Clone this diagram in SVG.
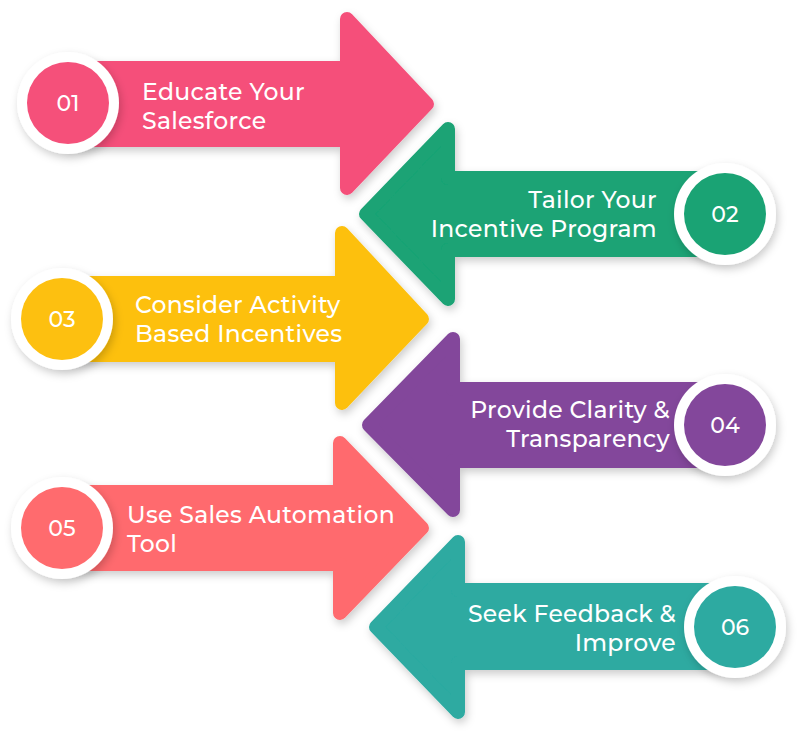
<svg xmlns="http://www.w3.org/2000/svg" width="800" height="734" viewBox="0 0 800 734">
<defs>
<filter id="sh" x="-20%" y="-20%" width="140%" height="140%"><feDropShadow dx="2" dy="4" stdDeviation="4" flood-color="#000" flood-opacity="0.2"/></filter>
</defs>
<style>
.a{stroke-width:14;stroke-linejoin:round;filter:url(#sh)}
.t{font-family:"Montserrat","Open Sans","Liberation Sans",sans-serif;font-size:23.5px;font-weight:500;fill:#fff;letter-spacing:0.3px}
.n{font-family:"Montserrat","Open Sans","Liberation Sans",sans-serif;font-size:22px;font-weight:500;fill:#fff;text-anchor:middle}
.r{fill:#fff;filter:url(#sh)}
</style>
<rect width="800" height="734" fill="#fff"/>
<g id="n1">
<path class="a" fill="#F5507A" stroke="#F5507A" d="M68,68 H347 V19 L427,104 L347,188 V140 H68 Z"/>
<circle class="r" cx="68" cy="103" r="51"/><circle cx="68" cy="103" r="41" fill="#F5507A"/>
<text class="n" x="68" y="111">01</text>
<text class="t" x="142" y="100">Educate Your</text><text class="t" x="142" y="129">Salesforce</text>
</g>
<g id="n2">
<path class="a" fill="#1AA374" stroke="#1AA374" d="M725,178 H448 V129 L366,214 L448,299 V250 H725 Z"/>
<circle class="r" cx="725" cy="214" r="51"/><circle cx="725" cy="214" r="41" fill="#1AA374"/>
<text class="n" x="725" y="222">02</text>
<text class="t" x="657" y="208" text-anchor="end">Tailor Your</text><text class="t" x="657" y="237" text-anchor="end">Incentive Program</text>
</g>
<g id="n3">
<path class="a" fill="#FDC010" stroke="#FDC010" d="M62,283 H342 V233 L422,319 L342,403 V355 H62 Z"/>
<circle class="r" cx="62" cy="319" r="51"/><circle cx="62" cy="319" r="41" fill="#FDC010"/>
<text class="n" x="62" y="327">03</text>
<text class="t" x="135" y="313">Consider Activity</text><text class="t" x="135" y="342">Based Incentives</text>
</g>
<g id="n4">
<path class="a" fill="#83479B" stroke="#83479B" d="M725,389 H453 V339 L369,425 L453,510 V461 H725 Z"/>
<circle class="r" cx="725" cy="425" r="51"/><circle cx="725" cy="425" r="41" fill="#83479B"/>
<text class="n" x="725" y="433">04</text>
<text class="t" x="670" y="418" text-anchor="end">Provide Clarity &amp;</text><text class="t" x="670" y="447" text-anchor="end">Transparency</text>
</g>
<g id="n5">
<path class="a" fill="#FF6B6E" stroke="#FF6B6E" d="M62,492 H340 V443 L422,528 L340,613 V564 H62 Z"/>
<circle class="r" cx="62" cy="528" r="51"/><circle cx="62" cy="528" r="41" fill="#FF6B6E"/>
<text class="n" x="62" y="536">05</text>
<text class="t" x="127" y="523">Use Sales Automation</text><text class="t" x="127" y="552">Tool</text>
</g>
<g id="n6">
<path class="a" fill="#2DAAA1" stroke="#2DAAA1" d="M735,590 H458 V542 L376,627 L458,712 V663 H735 Z"/>
<circle class="r" cx="735" cy="627" r="51"/><circle cx="735" cy="627" r="41" fill="#2DAAA1"/>
<text class="n" x="735" y="635">06</text>
<text class="t" x="676" y="622" text-anchor="end">Seek Feedback &amp;</text><text class="t" x="676" y="651" text-anchor="end">Improve</text>
</g>
<g id="connectors"/>
</svg>
